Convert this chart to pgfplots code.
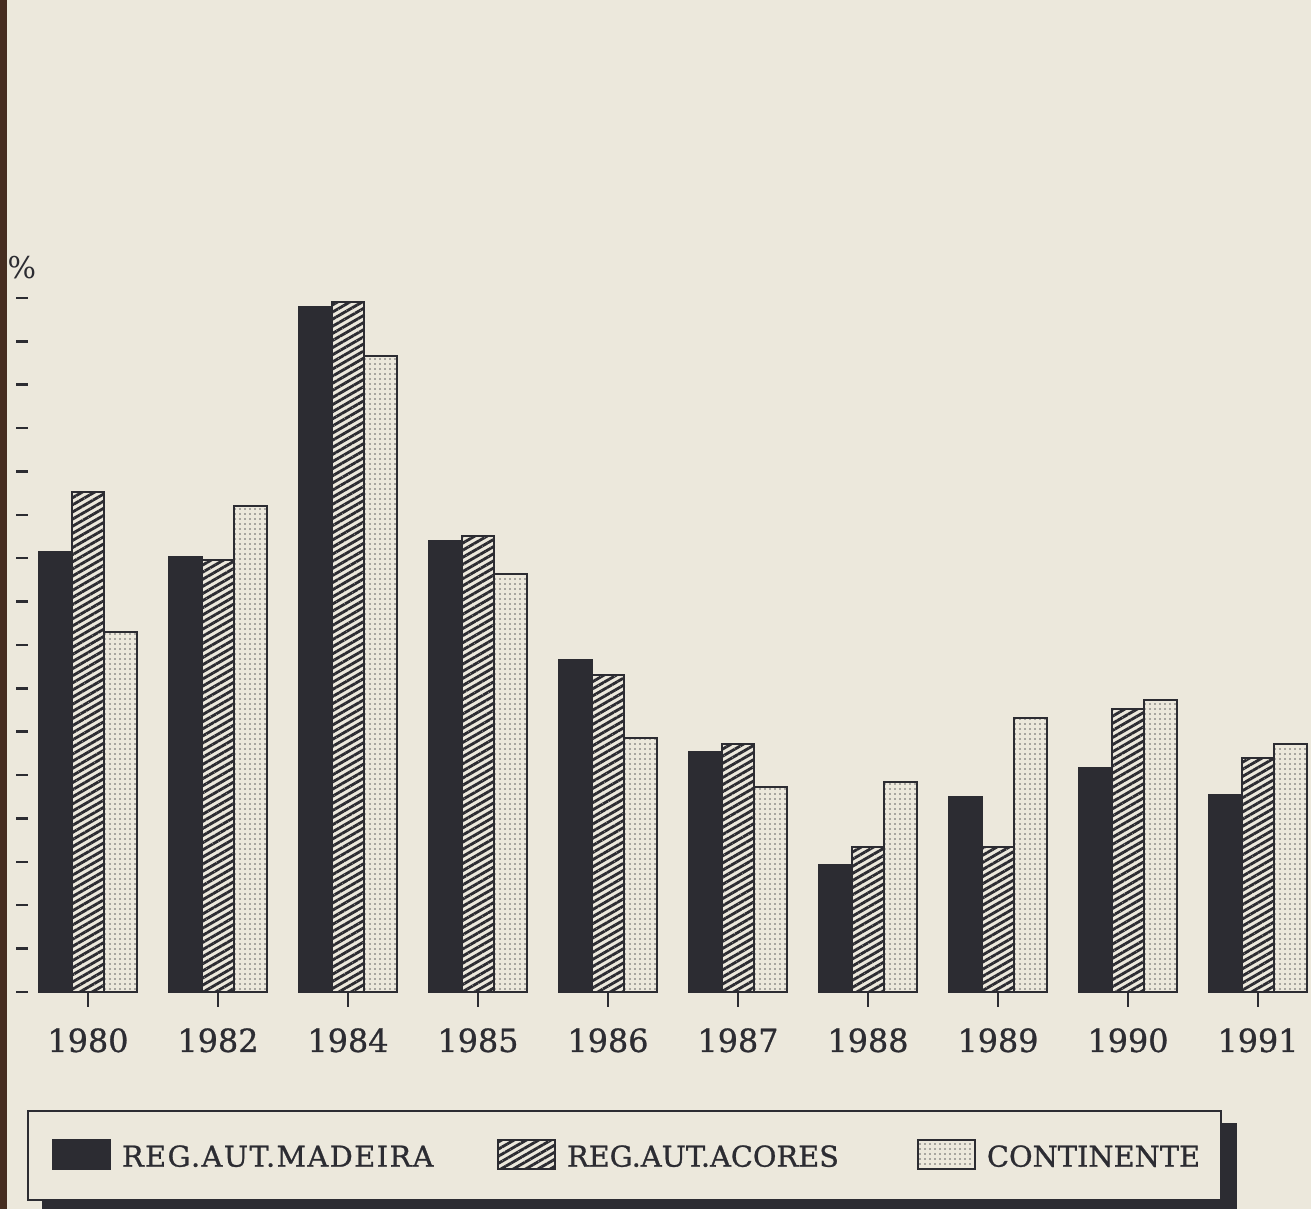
\documentclass[border=0pt]{standalone}
\usepackage{fontspec}
\setmainfont{DejaVu Serif}
\newfontfamily\slab[FakeBold=0.9]{DejaVu Serif}
\newfontfamily\slabsp[FakeBold=0.9,LetterSpace=5]{DejaVu Serif}
\usepackage{pgfplots}
\pgfplotsset{compat=1.18}
\usetikzlibrary{patterns.meta}
\definecolor{bg}{RGB}{236,232,220}
\definecolor{ink}{RGB}{44,44,50}
\definecolor{dotc}{RGB}{100,100,100}
\definecolor{edge}{RGB}{70,45,32}
\pgfplotsset{mylegend/.style={legend image code/.code={\draw[##1] (0pt,-4.35pt) rectangle (17.1pt,4.35pt);}}}
\begin{document}
\begin{tikzpicture}
\fill[bg] (-6.6pt,0) rectangle (386.7pt,362.7pt);
\fill[edge] (-6.6pt,0) rectangle (-4.5pt,362.7pt);
% legend shadow
\fill[ink] (6pt,-0.6pt) rectangle (364.5pt,25.8pt);
\begin{axis}[
  at={(0,0)}, anchor=south west,
  scale only axis, width=386.7pt, height=362.7pt,
  xmin=-0.5077, xmax=9.4077, ymin=-5.003, ymax=22.870,
  axis x line*=middle, axis y line*=left,
  axis line style={draw=none},
  ybar=0pt, bar width=9.75pt,
  xtick={0,...,9},
  xticklabels={1980,1982,1984,1985,1986,1987,1988,1989,1990,1991},
  ytick={0,...,16}, yticklabels={},
  xtick align=outside, ytick align=center,
  xtick style={draw=ink, line width=0.4pt, /pgfplots/major tick length=4.5pt},
  ytick style={draw=ink, line width=0.75pt, /pgfplots/major tick length=3.6pt},
  xticklabel style={font=\slab\fontsize{9.55}{11}\selectfont, text=ink, yshift=-3.1pt},
  clip=false,
  legend columns=3,
  legend style={at={(axis description cs:0.00388,0.0819)}, anchor=north west,
    fill=bg, draw=ink, line width=0.6pt, inner xsep=7.2pt, inner ysep=8.4pt,
    font=\slab\fontsize{8.64}{10}\selectfont, text=ink,
    /tikz/every odd column/.style={column sep=3.3pt},
    /tikz/every even column/.style={column sep=0pt},
    nodes={inner sep=0pt, anchor=west, yshift=-1.2pt}},
]
\addplot[fill=ink, draw=ink, line width=0.6pt, mylegend] coordinates {
 (0,10.14) (1,10.03) (2,15.79) (3,10.40) (4,7.65) (5,5.53) (6,2.93) (7,4.50) (8,5.16) (9,4.54)};
\addlegendentry{\makebox[112.5pt][l]{\slabsp REG.AUT.MADEIRA}}
\addplot[fill=bg, draw=ink, line width=0.6pt,
  postaction={pattern={Lines[angle=30,distance=1.85pt,line width=0.85pt]}, pattern color=ink}, mylegend] coordinates {
 (0,11.53) (1,9.96) (2,15.91) (3,10.51) (4,7.31) (5,5.72) (6,3.34) (7,3.34) (8,6.52) (9,5.39)};
\addlegendentry{\makebox[105pt][l]{REG.AUT.ACORES}}
\addplot[fill=bg, draw=ink, line width=0.6pt,
  postaction={pattern={Dots[distance=1.5pt,radius=0.26pt]}, pattern color=dotc}, mylegend] coordinates {
 (0,8.30) (1,11.20) (2,14.66) (3,9.64) (4,5.86) (5,4.73) (6,4.84) (7,6.32) (8,6.73) (9,5.72)};
\addlegendentry{\makebox[63pt][l]{CONTINENTE}}
\node[font=\fontsize{9}{10}\selectfont, text=ink] at (rel axis cs:0,0.779) {\%};
\end{axis}
\pgfresetboundingbox
\useasboundingbox (-6.6pt,0) rectangle (386.7pt,362.7pt);
\end{tikzpicture}
\end{document}
